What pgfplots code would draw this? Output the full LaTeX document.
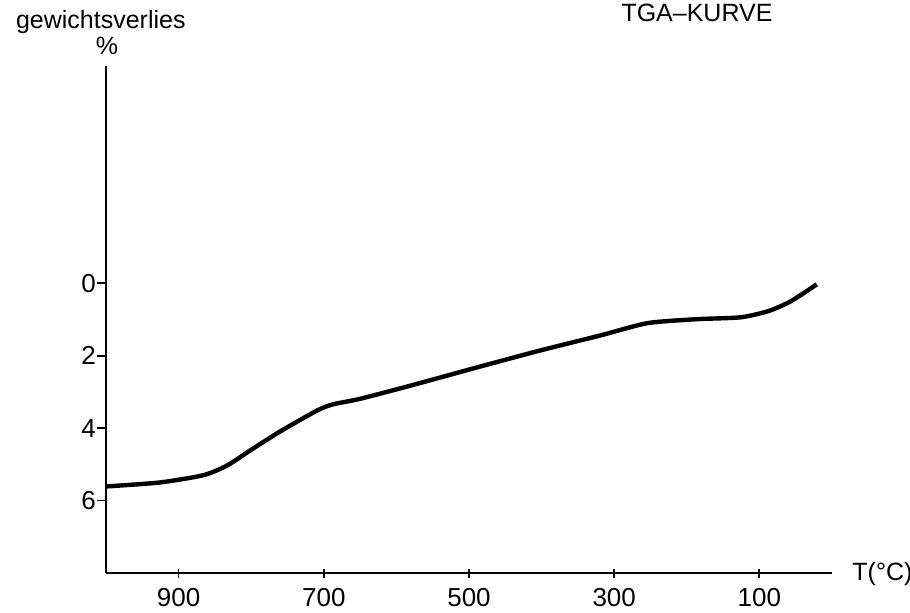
\documentclass[border=0pt]{standalone}
\usepackage{fontspec}
\setmainfont{Liberation Sans}
\usepackage{pgfplots}
\pgfplotsset{compat=1.18}
\begin{document}
\begin{tikzpicture}[x=1pt,y=1pt]
\begin{axis}[
  at={(0,0)}, anchor=south west,
  scale only axis, width=363pt, height=253.5pt,
  xmin=0, xmax=1000, x dir=reverse,
  ymin=-6, ymax=8, y dir=reverse,
  axis x line=bottom, axis y line=left,
  axis line style={-, line width=1pt},
  xtick={900,700,500,300,100},
  ytick={0,2,4,6},
  major tick length=4.5pt,
  tick style={line width=0.9pt, black},
  xtick align=center, ytick align=outside,
  tick label style={font=\fontsize{13}{15}\selectfont},
  xticklabel style={yshift=-2pt},
  yticklabel style={xshift=3pt},
  /pgf/number format/assume math mode=true,
  /pgf/number format/set thousands separator={},
  clip=false,
]
\addplot[black, line width=2.2pt, smooth, tension=0.4] coordinates {
(1000,5.61) (926,5.50) (866,5.30) (833,5.03) (801,4.61) (760,4.09)
(709,3.51) (687,3.34) (652,3.20) (585,2.85) (494,2.35) (457,2.15)
(401,1.85) (319,1.44) (254,1.10) (185,0.99) (126,0.94) (88,0.77)
(57,0.50) (21,0.03)
};
\end{axis}
\node[anchor=base west, font=\fontsize{12.5}{14}\selectfont] at (-48.5pt,272.5pt) {gewichtsverlies};
\node[anchor=base, font=\fontsize{12.5}{14}\selectfont] at (0.5pt,259pt) {\%};
\node[anchor=base, font=\fontsize{12.5}{15}\selectfont] at (295.5pt,276pt) {TGA--KURVE};
\node[anchor=base west, font=\fontsize{12.5}{14}\selectfont, inner sep=0pt] at (373pt,-3.5pt) {T(°C)};
\pgfresetboundingbox
\path[use as bounding box] (-53pt,-19.5pt) rectangle (402pt,286.5pt);
\end{tikzpicture}
\end{document}
